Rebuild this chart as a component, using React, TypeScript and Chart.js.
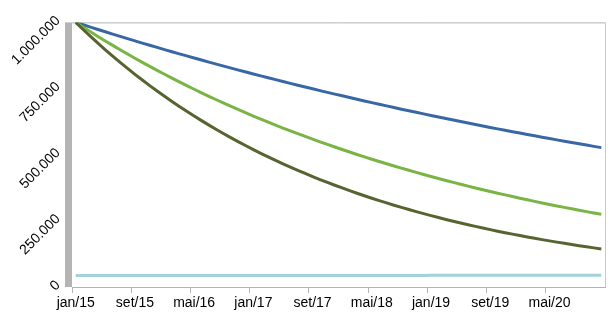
import React, { useEffect, useRef } from "react";
import { Chart, registerables } from "chart.js";

Chart.register(...registerables);

const MONTHS = ["jan", "fev", "mar", "abr", "mai", "jun", "jul", "ago", "set", "out", "nov", "dez"];
const YEARS = ["15", "16", "17", "18", "19", "20"];
const CATEGORIES = YEARS.flatMap((y) => MONTHS.map((m) => `${m}/${y}`));

const Y_MIN = 0;
const Y_MAX = 1000000;
const Y_STEP = 250000;
const LABEL_EVERY = 8;

const SERIES_BLUE = [
  1000000, 991000, 982100, 973300, 964500, 955900, 947300, 938700, 930300, 921900, 913700, 905400,
  897300, 889200, 881200, 873300, 865500, 857700, 850000, 842300, 834800, 827300, 819800, 812400,
  805100, 797900, 790700, 783600, 776600, 769600, 762700, 755800, 749000, 742300, 735600, 729000,
  722500, 716000, 709500, 703200, 696800, 690600, 684400, 678200, 672100, 666100, 660100, 654200,
  648300, 642500, 636700, 631000, 625300, 619700, 614100, 608600, 603100, 597700, 592300, 587000,
  581700, 576500, 571300, 566200, 561100, 556000, 551000, 546100, 541200, 536300, 531500, 526700,
];

const SERIES_GREEN = [
  1000000, 982000, 964300, 946900, 929800, 913100, 896600, 880400, 864600, 849000, 833700, 818600,
  803900, 789400, 775100, 761200, 747400, 734000, 720700, 707700, 695000, 682400, 670100, 658000,
  646200, 634500, 623100, 611900, 600800, 590000, 579400, 568900, 558700, 548600, 538700, 529000,
  519500, 510100, 500900, 491900, 483000, 474300, 465700, 457300, 449100, 441000, 433000, 425200,
  417600, 410000, 402600, 395400, 388200, 381200, 374400, 367600, 361000, 354500, 348100, 341800,
  335600, 329600, 323600, 317800, 312100, 306400, 300900, 295500, 290200, 284900, 279800, 274700,
];

const SERIES_DARK = [
  1000000, 973100, 946900, 921400, 896600, 872400, 848900, 826000, 803800, 782100, 761100, 740600,
  720600, 701200, 682300, 663900, 646100, 628700, 611700, 595300, 579200, 563600, 548500, 533700,
  519300, 505300, 491700, 478500, 465600, 453100, 440900, 429000, 417400, 406200, 395300, 384600,
  374300, 364200, 354400, 344800, 335500, 326500, 317700, 309100, 300800, 292700, 284800, 277200,
  269700, 262400, 255400, 248500, 241800, 235300, 229000, 222800, 216800, 211000, 205300, 199800,
  194400, 189100, 184000, 179100, 174300, 169600, 165000, 160600, 156200, 152000, 147900, 144000,
];

const SERIES_LIGHT = [
  43000, 43000, 43000, 43000, 43000, 43000, 43000, 43000, 43000, 43000, 43000, 43000,
  43000, 43000, 43000, 43000, 43000, 43000, 43000, 43000, 43000, 43000, 43000, 43000,
  43000, 43000, 43000, 43000, 43000, 43000, 43000, 43000, 43000, 43000, 43000, 43000,
  43000, 43000, 43000, 43000, 43500, 43500, 43500, 43500, 43500, 43500, 43500, 43500,
  44000, 44000, 44000, 44000, 44000, 44000, 44000, 44000, 44000, 44000, 44000, 44000,
  44000, 44000, 44000, 44000, 44000, 44000, 44000, 44000, 44000, 44000, 44000, 44000,
];

const fmt = (v: number) => String(Math.round(v)).replace(/\B(?=(\d{3})+(?!\d))/g, ".");

const framePlugin = {
  id: "frame",
  beforeDatasetsDraw(chart: any) {
    const { ctx, chartArea } = chart;
    const { left, right, top, bottom } = chartArea;
    ctx.save();
    ctx.fillStyle = "#b4b4b4";
    ctx.fillRect(left - 7, top, 7, bottom - top);
    ctx.strokeStyle = "#b3b3b3";
    ctx.lineWidth = 1;
    ctx.beginPath();
    ctx.moveTo(left, top + 0.5);
    ctx.lineTo(right, top + 0.5);
    ctx.stroke();
    ctx.strokeStyle = "#c4ccd0";
    ctx.beginPath();
    ctx.moveTo(right + 0.5, top);
    ctx.lineTo(right + 0.5, bottom);
    ctx.stroke();
    ctx.restore();
  },
};

export default function App() {
  const ref = useRef<HTMLCanvasElement | null>(null);

  useEffect(() => {
    if (!ref.current) return;
    const font = { family: "'Liberation Sans', Arial, sans-serif", size: 14 };
    const chart = new Chart(ref.current, {
      type: "line",
      data: {
        labels: CATEGORIES,
        datasets: [
          { data: SERIES_DARK, borderColor: "#576430", borderWidth: 3, pointRadius: 0, tension: 0 },
          { data: SERIES_GREEN, borderColor: "#79b445", borderWidth: 3, pointRadius: 0, tension: 0 },
          { data: SERIES_BLUE, borderColor: "#3867a6", borderWidth: 3, pointRadius: 0, tension: 0 },
          { data: SERIES_LIGHT, borderColor: "#a2d0dc", borderWidth: 3, pointRadius: 0, tension: 0 },
        ],
      },
      options: {
        animation: false,
        responsive: false,
        maintainAspectRatio: false,
        layout: { padding: { top: 17, right: 10, left: 0, bottom: 0 } },
        plugins: { legend: { display: false }, tooltip: { enabled: false } },
        scales: {
          x: {
            type: "category",
            offset: true,
            afterFit: (s: any) => {
              s.height = 31;
            },
            grid: {
              offset: true,
              drawOnChartArea: false,
              drawTicks: true,
              tickLength: 6,
              color: (c: any) => (c.index % LABEL_EVERY === 0 ? "#b3b3b3" : "rgba(0,0,0,0)"),
            },
            border: { display: true, color: "#b3b3b3", width: 1 },
            ticks: {
              autoSkip: false,
              maxRotation: 0,
              minRotation: 0,
              padding: 2,
              color: "#000",
              font,
              callback: (_v: any, i: number) => (i % LABEL_EVERY === 0 ? CATEGORIES[i] : ""),
            },
          },
          y: {
            min: Y_MIN,
            max: Y_MAX,
            afterFit: (s: any) => {
              s.width = 72;
            },
            grid: { display: false, drawTicks: false },
            border: { display: false },
            ticks: {
              stepSize: Y_STEP,
              minRotation: 45,
              maxRotation: 45,
              padding: 14,
              labelOffset: -4,
              color: "#000",
              font,
              callback: (v: any) => fmt(Number(v)),
            },
          },
        },
      },
      plugins: [framePlugin],
    });
    return () => chart.destroy();
  }, []);

  return (
    <div style={{ position: "fixed", left: 0, top: 0, width: 615, height: 318, background: "#fff" }}>
      <canvas ref={ref} width={615} height={318} style={{ width: 615, height: 318, display: "block" }} />
    </div>
  );
}
